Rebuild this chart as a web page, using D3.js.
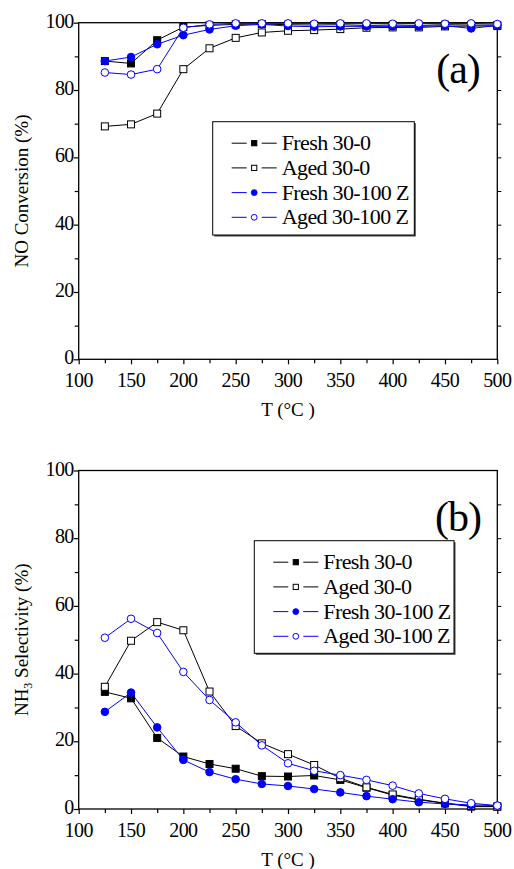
<!DOCTYPE html>
<html>
<head>
<meta charset="utf-8">
<script src="https://cdn.jsdelivr.net/npm/d3@7"></script>
<style>
  body { margin: 0; background: #fff; }
  text { font-family: "Liberation Serif", "DejaVu Serif", serif; }
</style>
</head>
<body>
<svg id="chart" width="514" height="869"></svg>
<script>
// temperatures (°C)
var temps = [125, 150, 175, 200, 225, 250, 275, 300, 325, 350, 375, 400, 425, 450, 475, 500];

// (a) NO conversion (%)
var noFresh30_0   = [88.6, 87.9, 94.8, 98.7, 99.2, 99.5, 99.6, 99.4, 99.3, 99.4, 99.2, 99.3, 99.2, 99.4, 99.3, 99.3];
var noAged30_0    = [69.2, 69.8, 73.0, 86.2, 92.4, 95.5, 97.1, 97.6, 97.8, 98.1, 98.5, 98.6, 98.6, 98.9, 99.0, 99.0];
var noFresh30_100 = [88.6, 89.8, 93.6, 96.3, 98.0, 99.1, 99.5, 99.0, 98.8, 98.9, 98.9, 98.9, 98.9, 99.1, 98.3, 99.2];
var noAged30_100  = [85.2, 84.6, 86.2, 98.5, 99.5, 99.8, 99.8, 99.8, 99.7, 99.8, 99.8, 99.7, 99.8, 99.7, 99.8, 99.6];

// (b) NH3 selectivity (%)
var nhFresh30_0   = [34.6, 32.7, 21.0, 15.5, 13.3, 11.9, 9.7, 9.6, 9.9, 8.6, 6.3, 4.1, 2.7, 1.7, 0.7, 0.7];
var nhAged30_0    = [36.1, 49.7, 55.2, 52.8, 34.7, 24.5, 19.4, 16.2, 13.0, 9.1, 6.4, 4.3, 2.9, 1.7, 0.9, 0.7];
var nhFresh30_100 = [28.7, 34.4, 24.1, 14.5, 10.9, 8.8, 7.4, 6.8, 5.9, 4.9, 3.8, 2.9, 2.0, 1.5, 1.2, 1.0];
var nhAged30_100  = [50.6, 56.2, 52.0, 40.5, 32.2, 25.6, 18.8, 13.5, 11.3, 10.0, 8.6, 6.9, 4.6, 3.0, 1.7, 1.0];

var seriesNames = ["Fresh 30-0", "Aged 30-0", "Fresh 30-100 Z", "Aged 30-100 Z"];
var xTicks = [100, 150, 200, 250, 300, 350, 400, 450, 500];
var yTicks = [0, 20, 40, 60, 80, 100];

var styles = [
  {color: "#000", shape: "square", filled: true},
  {color: "#000", shape: "square", filled: false},
  {color: "#0000ff", shape: "circle", filled: true},
  {color: "#0000ff", shape: "circle", filled: false}
];

var svg = d3.select("#chart");
var left = 78.7, right = 497.3;

function drawPanel(opts) {
  var x = d3.scaleLinear().domain([100, 500]).range([left, right]);
  var y = d3.scaleLinear().domain([0, 100]).range([opts.bottom, opts.top]);
  var g = svg.append("g");

  // frame
  g.append("rect").attr("x", left).attr("y", opts.top)
    .attr("width", right - left).attr("height", opts.bottom - opts.top)
    .attr("fill", "none").attr("stroke", "#000").attr("stroke-width", 1.3);

  // bottom ticks
  var xa = g.append("g").attr("transform", "translate(0," + opts.bottom + ")")
    .call(d3.axisBottom(x).tickValues(d3.range(100, 501, 25)).tickSize(5).tickFormat(""));
  xa.select(".domain").remove();
  xa.selectAll(".tick line").attr("stroke-width", 1.2)
    .attr("y2", function(d) { return d % 50 === 0 ? 5 : 4; });
  g.selectAll(".xl").data(xTicks).enter().append("text")
    .attr("x", function(d) { return x(d); })
    .attr("y", opts.bottom + 28)
    .attr("text-anchor", "middle")
    .attr("font-size", 20).attr("letter-spacing", -0.6)
    .text(function(d) { return d; });

  // left ticks
  var ya = g.append("g").attr("transform", "translate(" + left + ",0)")
    .call(d3.axisLeft(y).tickValues(d3.range(0, 101, 10)).tickSize(5).tickFormat(""));
  ya.select(".domain").remove();
  ya.selectAll(".tick line").attr("stroke-width", 1.2)
    .attr("x2", function(d) { return d % 20 === 0 ? -5 : -4; });
  g.selectAll(".yl").data(yTicks).enter().append("text")
    .attr("x", left - 5)
    .attr("y", function(d) { return y(d) + 5; })
    .attr("text-anchor", "end")
    .attr("font-size", 20).attr("letter-spacing", -0.6)
    .text(function(d) { return d; });

  // right ticks
  var ra = g.append("g").attr("transform", "translate(" + right + ",0)")
    .call(d3.axisRight(y).tickValues(d3.range(10, 100, 10)).tickSize(4).tickFormat(""));
  ra.select(".domain").remove();
  ra.selectAll(".tick line").attr("stroke-width", 1);

  // titles
  g.append("text").attr("x", 288).attr("y", opts.bottom + 57)
    .attr("text-anchor", "middle").attr("font-size", 19)
    .text("T (\u00B0C )");
  var yt = g.append("text")
    .attr("transform", "translate(28," + (opts.top + opts.bottom) / 2 + ") rotate(-90)")
    .attr("text-anchor", "middle").attr("font-size", 19);
  opts.yTitle(yt);

  g.append("text").attr("x", 458).attr("y", opts.top + 60)
    .attr("text-anchor", "middle").attr("font-size", 42).attr("letter-spacing", -1)
    .text(opts.label);

  // series
  var line = d3.line()
    .x(function(d, i) { return x(temps[i]); })
    .y(function(d) { return y(d); });

  opts.data.forEach(function(vals, k) {
    var st = styles[k];
    g.append("path").datum(vals).attr("d", line)
      .attr("fill", "none").attr("stroke", st.color).attr("stroke-width", 1);
    drawMarkers(g, vals.map(function(v, i) { return [x(temps[i]), y(v)]; }), st, 3.5);
  });

  // legend
  var L = opts.legend;
  g.append("rect").attr("x", L.x + 1.5).attr("y", L.y + 1.5).attr("width", L.w).attr("height", L.h)
    .attr("fill", "#444");
  g.append("rect").attr("x", L.x).attr("y", L.y).attr("width", L.w).attr("height", L.h)
    .attr("fill", "#fff").attr("stroke", "#000").attr("stroke-width", 1);
  seriesNames.forEach(function(name, k) {
    var st = styles[k];
    var ry = L.y + 21.5 + k * 24.7;
    var lx = L.x + 19;
    g.append("line").attr("x1", lx).attr("x2", lx + 15).attr("y1", ry).attr("y2", ry)
      .attr("stroke", st.color).attr("stroke-width", 1);
    g.append("line").attr("x1", lx + 30).attr("x2", lx + 45).attr("y1", ry).attr("y2", ry)
      .attr("stroke", st.color).attr("stroke-width", 1);
    drawMarkers(g, [[lx + 22.5, ry]], st, 2.6);
    g.append("text").attr("x", lx + 50).attr("y", ry + 7)
      .attr("font-size", 22).attr("letter-spacing", -0.6)
      .text(name);
  });
}

function drawMarkers(g, pts, st, r) {
  var sel = g.append("g").selectAll("m").data(pts).enter();
  if (st.shape === "square") {
    sel.append("rect")
      .attr("x", function(p) { return p[0] - r; })
      .attr("y", function(p) { return p[1] - r; })
      .attr("width", 2 * r).attr("height", 2 * r)
      .attr("fill", st.filled ? st.color : "#fff")
      .attr("stroke", st.color).attr("stroke-width", 1);
  } else {
    sel.append("circle")
      .attr("cx", function(p) { return p[0]; })
      .attr("cy", function(p) { return p[1]; })
      .attr("r", r + 0.3)
      .attr("fill", st.filled ? st.color : "#fff")
      .attr("stroke", st.color).attr("stroke-width", 1);
  }
}

drawPanel({
  top: 22.7, bottom: 359.3, label: "(a)",
  data: [noFresh30_0, noAged30_0, noFresh30_100, noAged30_100],
  legend: {x: 212.7, y: 121.7, w: 201.6, h: 113.3},
  yTitle: function(t) { t.text("NO Conversion (%)"); }
});

drawPanel({
  top: 470.5, bottom: 809, label: "(b)",
  data: [nhFresh30_0, nhAged30_0, nhFresh30_100, nhAged30_100],
  legend: {x: 254.3, y: 540.7, w: 199.7, h: 112.6},
  yTitle: function(t) {
    t.append("tspan").text("NH");
    t.append("tspan").attr("font-size", 12).attr("dy", 4).text("3");
    t.append("tspan").attr("dy", -4).text(" Selectivity (%)");
  }
});
</script>
</body>
</html>
